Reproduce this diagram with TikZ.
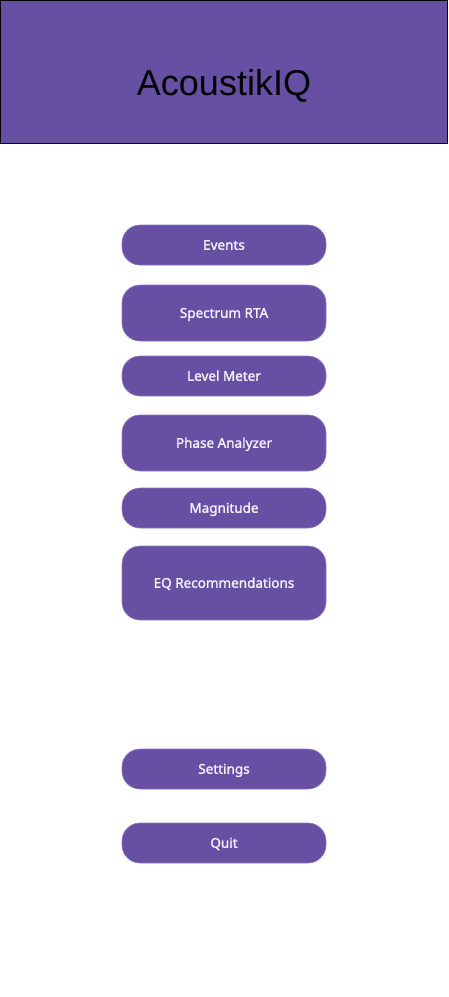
\documentclass[tikz,border=0pt]{standalone}
\usepackage{fontspec}
\setmainfont{Liberation Sans}
\newfontfamily\btnfont[FakeBold=1.6]{Noto Sans}
\definecolor{mpurple}{HTML}{6750A4}
\definecolor{mborder}{HTML}{8C7BC0}
\definecolor{btntext}{HTML}{F4F0FA}
\begin{document}
\begin{tikzpicture}[x=1pt,y=-1pt,
  btn/.style={draw=mborder,line width=0.6pt,fill=mpurple,rounded corners=18pt,
    minimum width=204pt,inner sep=0pt,text=btntext,text height=9.5pt,text depth=0pt,
    font=\btnfont\fontsize{13.5}{15}\selectfont}]
\useasboundingbox (0,0) rectangle (448,997);
\fill[white] (0,0) rectangle (448,997);
\draw[fill=mpurple,draw=black,line width=1pt] (0.5,0.5) rectangle (447.5,143);
\node (title) at (224,86) {\fontsize{36}{40}\selectfont AcoustikIQ};
\node[btn,minimum height=40pt] (events) at (224,245) {Events};
\node[btn,minimum height=56pt] (rta) at (224,313) {Spectrum RTA};
\node[btn,minimum height=40pt] (level) at (224,376) {Level Meter};
\node[btn,minimum height=56pt] (phase) at (224,443) {Phase Analyzer};
\node[btn,minimum height=40pt] (mag) at (224,508) {Magnitude};
\node[btn,minimum height=74pt] (eq) at (224,583) {EQ Recommendations};
\node[btn,minimum height=40pt] (settings) at (224,769) {Settings};
\node[btn,minimum height=40pt] (quit) at (224,843) {Quit};
\end{tikzpicture}
\end{document}
